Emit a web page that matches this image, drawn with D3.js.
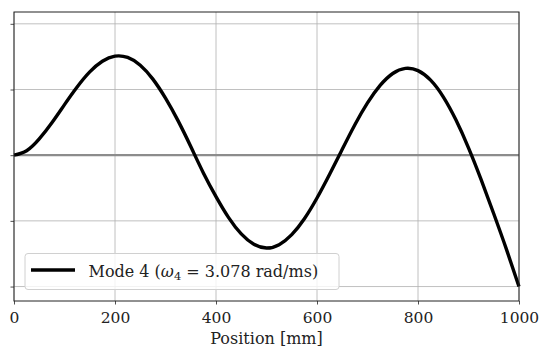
<!DOCTYPE html>
<html>
<head>
<meta charset="utf-8">
<script src="https://cdn.jsdelivr.net/npm/d3@7"></script>
<style>
  body { margin: 0; background: #fff; }
  svg text { font-family: "DejaVu Serif", serif; }
</style>
</head>
<body>
<div id="chart"></div>
<script>
// mode shape, every 25 mm
let positions = d3.range(0, 1001, 25);
let mode4 = [0.000, 0.034, 0.124, 0.247, 0.385, 0.519, 0.634, 0.715, 0.754, 0.744, 0.685,
    0.579, 0.434, 0.261, 0.066, -0.135, -0.315, -0.475, -0.599, -0.678, -0.707,
    -0.681, -0.605, -0.484, -0.326, -0.145, 0.045, 0.232, 0.398, 0.531, 0.622,
    0.661, 0.644, 0.571, 0.444, 0.269, 0.056, -0.186, -0.446, -0.715, -1.000];
let xTicks = [0, 200, 400, 600, 800, 1000];
let yTicks = [-1, -0.5, 0, 0.5, 1];
let legendLabel = "Mode 4";
let omegaValue = "3.078 rad/ms";

let margin = {top: 12, right: 26, bottom: 48, left: 14};
let width = 545 - margin.left - margin.right;
let height = 349 - margin.top - margin.bottom;

let svg = d3.select("#chart").append("svg")
    .attr("width", 545)
    .attr("height", 349)
    .append("g")
    .attr("transform", "translate(" + margin.left + "," + margin.top + ")");

let data = positions.map(function (p, i) {
    return {x: p, y: mode4[i]};
});

let x = d3.scaleLinear().domain([0, 1000]).range([0, width]);
let y = d3.scaleLinear().domain([-1.11, 1.09]).range([height, 0]);

// grid
svg.append("g")
    .selectAll("line")
    .data(xTicks)
    .enter().append("line")
    .attr("x1", d => x(d)).attr("x2", d => x(d))
    .attr("y1", 0).attr("y2", height)
    .attr("stroke", "#b0b0b0").attr("stroke-width", 0.8);
svg.append("g")
    .selectAll("line")
    .data(yTicks)
    .enter().append("line")
    .attr("x1", 0).attr("x2", width)
    .attr("y1", d => y(d)).attr("y2", d => y(d))
    .attr("stroke", "#b0b0b0").attr("stroke-width", 0.8);

// zero line
svg.append("line")
    .attr("x1", 0).attr("x2", width)
    .attr("y1", y(0)).attr("y2", y(0))
    .attr("stroke", "#8c8c8c").attr("stroke-width", 2.2);

// the curve
svg.append("path")
    .datum(data)
    .attr("fill", "none")
    .attr("stroke", "black")
    .attr("stroke-width", 3.4)
    .attr("stroke-linejoin", "round")
    .attr("d", d3.line()
        .x(d => x(d.x))
        .y(d => y(d.y))
        .curve(d3.curveNatural));

// axes
let xAxis = svg.append("g")
    .attr("transform", "translate(0," + height + ")")
    .call(d3.axisBottom(x).tickValues(xTicks).tickSize(3.5).tickPadding(7).tickFormat(d3.format("d")));
let yAxis = svg.append("g")
    .call(d3.axisLeft(y).tickValues(yTicks).tickSize(3.5).tickFormat(""));
[xAxis, yAxis].forEach(function (a) {
    a.select(".domain").remove();
    a.selectAll("line").attr("stroke", "#222").attr("stroke-width", 0.8);
    a.selectAll("text").attr("font-family", "DejaVu Serif").attr("font-size", 15.5).attr("fill", "#222");
});

// frame
svg.append("rect")
    .attr("width", width).attr("height", height)
    .attr("fill", "none").attr("stroke", "#222").attr("stroke-width", 1);

svg.append("text")
    .attr("x", width / 2)
    .attr("y", height + 43)
    .attr("text-anchor", "middle")
    .attr("font-size", 16)
    .attr("fill", "#222")
    .text("Position [mm]");

// legend
let legend = svg.append("g").attr("transform", "translate(11,241.5)");
legend.append("rect")
    .attr("width", 314).attr("height", 36).attr("rx", 3)
    .attr("fill", "white").attr("fill-opacity", 0.8)
    .attr("stroke", "#d0d0d0").attr("stroke-width", 1);
legend.append("line")
    .attr("x1", 6).attr("x2", 50).attr("y1", 16.5).attr("y2", 16.5)
    .attr("stroke", "black").attr("stroke-width", 3.4);
let lt = legend.append("text")
    .attr("x", 63.5).attr("y", 23.5)
    .attr("font-size", 16).attr("fill", "#222");
lt.append("tspan").text(legendLabel + " (");
lt.append("tspan").attr("font-style", "italic").text("ω");
lt.append("tspan").attr("font-size", 11.5).attr("dy", 3).text("4");
lt.append("tspan").attr("dy", -3).text(" = " + omegaValue + ")");
</script>
</body>
</html>
